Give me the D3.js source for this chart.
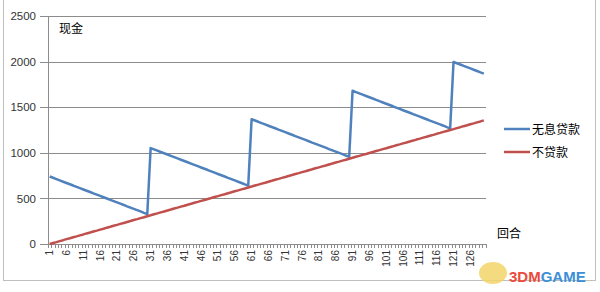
<!DOCTYPE html>
<html><head><meta charset="utf-8">
<script src="https://cdn.jsdelivr.net/npm/d3@7"></script>
<style>body{margin:0;background:#fff}svg{display:block}</style>
</head><body>
<svg id="c" width="600" height="292"></svg>
<script>
const rounds = d3.range(1, 131);
const seriesNames = ["无息贷款", "不贷款"];
const loanFree = [
740,726,712,697,683,669,655,641,626,612,598,584,570,555,541,527,513,499,484,470,456,442,428,413,399,385,371,357,342,328,
1052,1038,1024,1009,995,981,967,953,938,924,910,896,882,867,853,839,825,811,796,782,768,754,740,725,711,697,683,669,654,640,
1368,1354,1340,1325,1311,1297,1283,1269,1254,1240,1226,1212,1198,1183,1169,1155,1141,1127,1112,1098,1084,1070,1056,1041,1027,1013,999,985,970,956,
1680,1666,1652,1637,1623,1609,1595,1581,1566,1552,1538,1524,1510,1495,1481,1467,1453,1439,1424,1410,1396,1382,1368,1353,1339,1325,1311,1297,1282,1268,
1996,1982,1968,1953,1939,1925,1911,1897,1882,1868];
const noLoan = [
0,11,21,32,42,53,63,74,84,95,105,116,126,137,147,158,168,179,189,200,210,221,231,242,252,263,273,284,294,305,
315,326,336,347,357,368,378,389,399,410,420,431,441,452,462,473,483,494,504,515,525,536,546,557,567,578,588,599,609,620,
630,641,651,662,672,683,693,704,714,725,735,746,756,767,777,788,798,809,819,830,840,851,861,872,882,893,903,914,924,935,
945,956,966,977,987,998,1008,1019,1029,1040,1050,1061,1071,1082,1092,1103,1113,1124,1134,1145,1155,1166,1176,1187,1197,1208,1218,1229,1239,1250,
1260,1271,1281,1292,1302,1313,1323,1334,1344,1355];
const yTicks = [0, 500, 1000, 1500, 2000, 2500];
const xTickLabels = rounds.filter(r => (r - 1) % 5 === 0);
const colors = ["#4f81bd", "#c0504d"];

const svg = d3.select("#c");
const numFont = "'Liberation Sans', Arial, sans-serif";
const cjkFont = "'Noto Sans CJK SC', sans-serif";

// outer frame
svg.append("rect").attr("x", 3.5).attr("y", -1).attr("width", 592).attr("height", 281.5)
  .attr("fill", "none").attr("stroke", "#bfbfbf").attr("stroke-width", 1);

const x = d3.scaleBand().domain(rounds).range([48, 485.5]).padding(0);
const y = d3.scaleLinear().domain([0, 2500]).range([244, 16]);
const cx = d => x(d) + x.bandwidth() / 2;

// gridlines + y axis ticks
const yAxis = d3.axisLeft(y).tickValues(yTicks).tickFormat(d3.format("d"))
  .tickSize(-(485.5 - 40)).tickPadding(4).tickSizeOuter(0);
const gy = svg.append("g").attr("transform", "translate(40,0)").call(yAxis);
gy.select(".domain").remove();
gy.selectAll(".tick line").attr("stroke", "#8c8c8c").attr("shape-rendering", "crispEdges");
gy.selectAll(".tick text").attr("font-family", numFont).attr("font-size", 11.5).attr("fill", "#333");
// y axis line
svg.append("line").attr("x1", 48.5).attr("x2", 48.5).attr("y1", 16).attr("y2", 244)
  .attr("stroke", "#8c8c8c");

// x axis minor ticks at band boundaries
const bounds = rounds.map(r => x(r)).concat([x.range()[1]]);
svg.append("g").selectAll("line").data(bounds).join("line")
  .attr("x1", d => Math.round(d) + 0.5).attr("x2", d => Math.round(d) + 0.5)
  .attr("y1", 244).attr("y2", 248).attr("stroke", "#8c8c8c");
svg.append("line").attr("x1", 48).attr("x2", 485.5).attr("y1", 244.5).attr("y2", 244.5).attr("stroke", "#8c8c8c");

// x labels
svg.append("g").selectAll("text").data(xTickLabels).join("text")
  .attr("transform", d => `translate(${cx(d) + 3.5},250) rotate(-90)`)
  .attr("text-anchor", "end").attr("font-family", numFont).attr("font-size", 10).attr("fill", "#333")
  .text(d => d);

// lines
const line = d3.line().x((d, i) => cx(rounds[i])).y(d => y(d));
[loanFree, noLoan].forEach((s, k) => {
  svg.append("path").datum(s).attr("d", line).attr("fill", "none")
    .attr("stroke", colors[k]).attr("stroke-width", 2.5).attr("stroke-linejoin", "round");
});

// titles
svg.append("text").attr("x", 59).attr("y", 33).attr("font-family", cjkFont).attr("font-size", 12).attr("fill", "#000").text("现金");
svg.append("text").attr("x", 497).attr("y", 238).attr("font-family", cjkFont).attr("font-size", 12).attr("fill", "#000").text("回合");

// legend
const lg = svg.append("g");
seriesNames.forEach((n, k) => {
  const ly = 129 + k * 23;
  lg.append("line").attr("x1", 504).attr("x2", 530).attr("y1", ly).attr("y2", ly)
    .attr("stroke", colors[k]).attr("stroke-width", 2.5);
  lg.append("text").attr("x", 532).attr("y", ly + 4.5).attr("font-family", cjkFont)
    .attr("font-size", 12).attr("fill", "#000").text(n);
});

// watermark
const wm = svg.append("g");
wm.append("ellipse").attr("cx", 493).attr("cy", 273).attr("rx", 14).attr("ry", 11).attr("fill", "#f3d56a").attr("opacity", 0.85);
wm.append("text").attr("x", 509).attr("y", 282).attr("font-family", "'Liberation Sans', Arial, sans-serif")
  .attr("font-weight", "bold").attr("font-size", 15).attr("fill", "#e94b3c").text("3DM")
  .append("tspan").attr("fill", "#3c8fd6").text("GAME");
</script>
</body></html>
